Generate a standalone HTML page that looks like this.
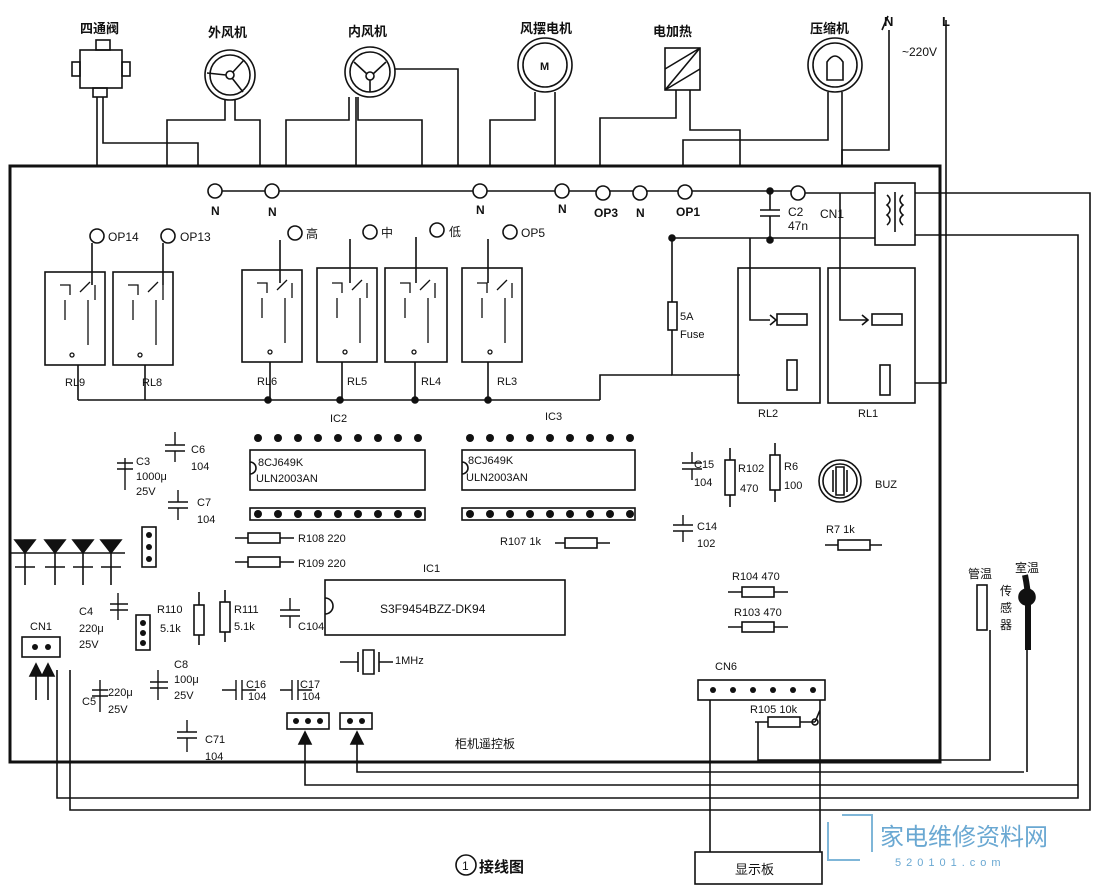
<!DOCTYPE html>
<html><head><meta charset="utf-8"><style>
html,body{margin:0;padding:0;background:#fff}
svg{display:block}
text{font-family:"Liberation Sans","Noto Sans CJK SC",sans-serif;fill:#111}
</style></head><body>
<svg width="1102" height="892" viewBox="0 0 1102 892" xmlns="http://www.w3.org/2000/svg" stroke="#111" fill="none" stroke-width="1.6">
<rect x="0" y="0" width="1102" height="892" fill="#fff" stroke="none"/>
<rect x="10" y="166" width="930" height="596" stroke-width="3"/>

<g stroke="none" font-size="13" font-weight="bold">
<text x="80" y="33">四通阀</text>
<text x="208" y="37">外风机</text>
<text x="348" y="36">内风机</text>
<text x="520" y="33">风摆电机</text>
<text x="653" y="36">电加热</text>
<text x="810" y="33">压缩机</text>
<text x="884" y="26">N</text>
<text x="942" y="26">L</text>
<text x="902" y="56" font-weight="normal" font-size="12">~220V</text>
</g>
<rect x="80" y="50" width="42" height="38"/><rect x="96" y="40" width="14" height="10"/>
<rect x="72" y="62" width="8" height="14"/><rect x="122" y="62" width="8" height="14"/>
<rect x="93" y="88" width="14" height="9"/>
<path d="M97 97V166M103 97V143H198V166"/>
<circle cx="230" cy="75" r="25"/><circle cx="230" cy="75" r="20"/><circle cx="230" cy="75" r="4"/>
<path d="M226 75L207 73M233 72L244 60M232 78L243 92"/>
<path d="M225 100V120H167V166M235 100V120H260V166"/>
<circle cx="370" cy="72" r="25"/><circle cx="370" cy="72" r="20"/><circle cx="370" cy="76" r="4"/>
<path d="M367 74L354 62M373 74L386 62M370 80V92"/>
<path d="M349 97V120H286V166M356 97V166M358 97V120H422V166M395 69H458V166"/>
<circle cx="545" cy="65" r="27"/><circle cx="545" cy="65" r="22"/>
<text x="540" y="70" font-size="11" stroke="none" font-weight="bold">M</text>
<path d="M535 92V120H490V166M555 92V166"/>
<rect x="665" y="48" width="35" height="42"/><path d="M665 90L700 48M665 69L700 48M665 90L700 69"/>
<path d="M676 90V118H600V166M690 90V130H740V166"/>
<circle cx="835" cy="65" r="27"/><circle cx="835" cy="65" r="22"/>
<path d="M827 80V62Q835 50 843 62V80Z"/>
<path d="M828 92V140H683V166M842 92V166"/>
<path d="M889 30V150H842V166M946 20V383H915M888 16L882 30"/>

<path d="M215 191H800"/>
<g fill="#fff">
<circle cx="215" cy="191" r="7"/><circle cx="272" cy="191" r="7"/><circle cx="480" cy="191" r="7"/><circle cx="562" cy="191" r="7"/><circle cx="603" cy="193" r="7"/><circle cx="640" cy="193" r="7"/><circle cx="685" cy="192" r="7"/><circle cx="798" cy="193" r="7"/>
</g>
<g stroke="none" font-size="12" font-weight="bold">
<text x="211" y="215">N</text><text x="268" y="216">N</text><text x="476" y="214">N</text><text x="558" y="213">N</text><text x="594" y="217">OP3</text><text x="636" y="217">N</text><text x="676" y="216">OP1</text>
<text x="788" y="216" font-weight="normal">C2</text><text x="788" y="230" font-weight="normal">47n</text><text x="820" y="218" font-weight="normal">CN1</text>
</g>
<circle cx="770" cy="191" r="3" fill="#111"/><circle cx="770" cy="240" r="3" fill="#111"/>
<path d="M770 191V210M760 210H780M760 216H780M770 216V240"/>
<rect x="875" y="183" width="40" height="62"/>
<path d="M887 195q6 5 0 10q6 5 0 10q6 5 0 10M903 195q-6 5 0 10q-6 5 0 10q-6 5 0 10M895 192V232"/>
<path d="M805 193H875M915 193H1090V810H70V670M915 235H1078V798H57V670"/>
<path d="M672 238H875"/><circle cx="672" cy="238" r="3" fill="#111"/>
<path d="M672 238V302M672 330V375H740"/><rect x="668" y="302" width="9" height="28"/>
<text x="680" y="320" font-size="11" stroke="none">5A</text><text x="680" y="338" font-size="11" stroke="none">Fuse</text>
<path d="M600 400V375H672"/>
<rect x="738" y="268" width="82" height="135"/><rect x="828" y="268" width="87" height="135"/>
<path d="M750 238V320H770M770 315L776 320L770 325M840 193V320H868M862 315L868 320L862 325"/>
<rect x="777" y="314" width="30" height="11"/><rect x="872" y="314" width="30" height="11"/>
<rect x="787" y="360" width="10" height="30"/><rect x="880" y="365" width="10" height="30"/>
<g stroke="none" font-size="11"><text x="758" y="417">RL2</text><text x="858" y="417">RL1</text></g>

<g fill="#fff">
<circle cx="97" cy="236" r="7"/><circle cx="168" cy="236" r="7"/><circle cx="295" cy="233" r="7"/><circle cx="370" cy="232" r="7"/><circle cx="437" cy="230" r="7"/><circle cx="510" cy="232" r="7"/>
</g>
<g stroke="none" font-size="12"><text x="108" y="241">OP14</text><text x="180" y="241">OP13</text><text x="306" y="238">高</text><text x="381" y="237">中</text><text x="449" y="236">低</text><text x="521" y="237">OP5</text></g>
<path d="M92 243V285M163 243V285M280 240V283M350 239V283M416 237V283M488 239V283"/>
<rect x="45" y="272" width="60" height="93"/><rect x="113" y="272" width="60" height="93"/>
<rect x="242" y="270" width="60" height="92"/><rect x="317" y="268" width="60" height="94"/>
<rect x="385" y="268" width="62" height="94"/><rect x="462" y="268" width="60" height="94"/>
<g stroke-width="1.3">
<path d="M60 285H70V295M80 292L90 282M95 285V300M65 300V320M88 300V345"/><circle cx="72" cy="355" r="2"/>
<path d="M128 285H138V295M148 292L158 282M163 285V300M133 300V320M156 300V345"/><circle cx="140" cy="355" r="2"/>
<path d="M257 283H267V293M277 290L287 280M292 283V298M262 298V318M285 298V343"/><circle cx="270" cy="352" r="2"/>
<path d="M332 283H342V293M352 290L362 280M367 283V298M337 298V318M360 298V343"/><circle cx="345" cy="352" r="2"/>
<path d="M400 283H410V293M420 290L430 280M435 283V298M405 298V318M428 298V343"/><circle cx="414" cy="352" r="2"/>
<path d="M477 283H487V293M497 290L507 280M512 283V298M482 298V318M505 298V343"/><circle cx="490" cy="352" r="2"/>
</g>
<g stroke="none" font-size="11"><text x="65" y="386">RL9</text><text x="142" y="386">RL8</text><text x="257" y="385">RL6</text><text x="347" y="385">RL5</text><text x="421" y="385">RL4</text><text x="497" y="385">RL3</text></g>
<path d="M78 400H600M78 365V400M145 365V400M270 362V400M342 362V400M415 362V400M488 362V400"/>
<g fill="#111"><circle cx="268" cy="400" r="3"/><circle cx="340" cy="400" r="3"/><circle cx="415" cy="400" r="3"/><circle cx="488" cy="400" r="3"/></g>

<g stroke="none" font-size="11"><text x="330" y="422">IC2</text><text x="545" y="420">IC3</text><text x="423" y="572">IC1</text></g>
<rect x="250" y="450" width="175" height="40"/><path d="M250 462a6 6 0 0 1 0 12"/>
<rect x="462" y="450" width="173" height="40"/><path d="M462 462a6 6 0 0 1 0 12"/>
<rect x="250" y="508" width="175" height="12"/><rect x="462" y="508" width="173" height="12"/>
<g fill="#111" stroke="none">
<circle cx="258" cy="438" r="4"/><circle cx="278" cy="438" r="4"/><circle cx="298" cy="438" r="4"/><circle cx="318" cy="438" r="4"/><circle cx="338" cy="438" r="4"/><circle cx="358" cy="438" r="4"/><circle cx="378" cy="438" r="4"/><circle cx="398" cy="438" r="4"/><circle cx="418" cy="438" r="4"/>
<circle cx="258" cy="514" r="4"/><circle cx="278" cy="514" r="4"/><circle cx="298" cy="514" r="4"/><circle cx="318" cy="514" r="4"/><circle cx="338" cy="514" r="4"/><circle cx="358" cy="514" r="4"/><circle cx="378" cy="514" r="4"/><circle cx="398" cy="514" r="4"/><circle cx="418" cy="514" r="4"/>
<circle cx="470" cy="438" r="4"/><circle cx="490" cy="438" r="4"/><circle cx="510" cy="438" r="4"/><circle cx="530" cy="438" r="4"/><circle cx="550" cy="438" r="4"/><circle cx="570" cy="438" r="4"/><circle cx="590" cy="438" r="4"/><circle cx="610" cy="438" r="4"/><circle cx="630" cy="438" r="4"/>
<circle cx="470" cy="514" r="4"/><circle cx="490" cy="514" r="4"/><circle cx="510" cy="514" r="4"/><circle cx="530" cy="514" r="4"/><circle cx="550" cy="514" r="4"/><circle cx="570" cy="514" r="4"/><circle cx="590" cy="514" r="4"/><circle cx="610" cy="514" r="4"/><circle cx="630" cy="514" r="4"/>
</g>
<g stroke="none" font-size="11"><text x="258" y="466">8CJ649K</text><text x="256" y="482">ULN2003AN</text><text x="468" y="464">8CJ649K</text><text x="466" y="481">ULN2003AN</text></g>
<rect x="325" y="580" width="240" height="55"/><path d="M325 598a8 8 0 0 1 0 16"/>
<text x="380" y="613" font-size="12" stroke="none">S3F9454BZZ-DK94</text>

<g stroke-width="1.4">
<path d="M175 432V445M165 445H185M165 451H185M175 451V462"/>
<path d="M125 458V490M117 463H133M117 469H133"/>
<path d="M178 490V502M168 502H188M168 508H188M178 508V520"/>
<path d="M118 593V620M110 604H128M110 610H128"/>
<path d="M100 680V712M92 690H108M92 696H108"/>
<path d="M158 670V700M150 682H168M150 688H168"/>
<path d="M222 690H236M236 680V700M242 680V700M242 690H256"/>
<path d="M280 690H292M292 680V700M298 680V700M298 690H312"/>
<path d="M187 720V732M177 732H197M177 738H197M187 738V752"/>
<path d="M290 598V610M280 610H300M280 616H300M290 616V628"/>
<path d="M692 452V463M682 463H702M682 469H702M692 469V480"/>
<path d="M683 515V525M673 525H693M673 531H693M683 531V542"/>
</g>
<g stroke="none" font-size="11">
<text x="191" y="453">C6</text><text x="191" y="470">104</text>
<text x="136" y="465">C3</text><text x="136" y="480">1000μ</text><text x="136" y="495">25V</text>
<text x="197" y="506">C7</text><text x="197" y="523">104</text>
<text x="79" y="615">C4</text><text x="79" y="632">220μ</text><text x="79" y="648">25V</text>
<text x="82" y="705">C5</text><text x="108" y="696">220μ</text><text x="108" y="713">25V</text>
<text x="174" y="668">C8</text><text x="174" y="683">100μ</text><text x="174" y="699">25V</text>
<text x="246" y="688">C16</text><text x="248" y="700">104</text>
<text x="300" y="688">C17</text><text x="302" y="700">104</text>
<text x="205" y="743">C71</text><text x="205" y="760">104</text>
<text x="298" y="630">C104</text>
<text x="694" y="468">C15</text><text x="694" y="486">104</text>
<text x="697" y="530">C14</text><text x="697" y="547">102</text>
</g>
<path d="M10 553H125"/>
<g fill="#111"><path d="M15 540L35 540L25 553Z"/><path d="M45 540L65 540L55 553Z"/><path d="M73 540L93 540L83 553Z"/><path d="M101 540L121 540L111 553Z"/></g>
<path d="M15 567H35M45 567H65M73 567H93M101 567H121M25 553V585M55 553V585M83 553V585M111 553V585"/>
<rect x="142" y="527" width="14" height="40"/>
<g fill="#111" stroke="none"><circle cx="149" cy="535" r="3"/><circle cx="149" cy="547" r="3"/><circle cx="149" cy="559" r="3"/>
<circle cx="143" cy="623" r="3"/><circle cx="143" cy="633" r="3"/><circle cx="143" cy="643" r="3"/></g>
<rect x="136" y="615" width="14" height="35"/>
<rect x="22" y="637" width="38" height="20"/>
<g fill="#111" stroke="none"><circle cx="35" cy="647" r="3"/><circle cx="48" cy="647" r="3"/></g>
<text x="30" y="630" font-size="11" stroke="none">CN1</text>
<path d="M36 668V700M48 668V700"/>
<path d="M30 676L36 664L42 676ZM42 676L48 664L54 676Z" fill="#111"/>
<rect x="248" y="533" width="32" height="10"/><path d="M235 538H248M280 538H294"/>
<rect x="248" y="557" width="32" height="10"/><path d="M235 562H248M280 562H294"/>
<rect x="194" y="605" width="10" height="30"/><path d="M199 592V605M199 635V645"/>
<rect x="220" y="602" width="10" height="30"/><path d="M225 590V602M225 632V642"/>
<rect x="565" y="538" width="32" height="10"/><path d="M555 543H565M597 543H610"/>
<rect x="725" y="460" width="10" height="35"/><path d="M730 448V460M730 495V507"/>
<rect x="770" y="455" width="10" height="35"/><path d="M775 443V455M775 490V502"/>
<rect x="838" y="540" width="32" height="10"/><path d="M825 545H838M870 545H882"/>
<rect x="742" y="587" width="32" height="10"/><path d="M728 592H742M774 592H788"/>
<rect x="742" y="622" width="32" height="10"/><path d="M728 627H742M774 627H788"/>
<rect x="768" y="717" width="32" height="10"/><path d="M755 722H768M800 722H815"/>
<g stroke="none" font-size="11">
<text x="298" y="542">R108 220</text><text x="298" y="567">R109 220</text>
<text x="157" y="613">R110</text><text x="160" y="632">5.1k</text>
<text x="234" y="613">R111</text><text x="234" y="630">5.1k</text>
<text x="500" y="545">R107 1k</text>
<text x="738" y="472">R102</text><text x="740" y="492">470</text>
<text x="784" y="470">R6</text><text x="784" y="489">100</text>
<text x="826" y="533">R7 1k</text>
<text x="732" y="580">R104 470</text><text x="734" y="616">R103 470</text>
<text x="750" y="713">R105 10k</text>
<text x="395" y="664">1MHz</text>
<text x="875" y="488">BUZ</text>
<text x="715" y="670">CN6</text>
<text x="455" y="748" font-size="12">柜机遥控板</text>
</g>
<path d="M340 662H358M358 652V672M363 650H374V674H363ZM379 652V672M379 662H393"/>
<circle cx="840" cy="481" r="21"/><circle cx="840" cy="481" r="17"/><path d="M833 470V492M847 470V492M836 467H844V495H836Z"/>
<rect x="287" y="713" width="42" height="16"/><rect x="340" y="713" width="32" height="16"/>
<g fill="#111" stroke="none"><circle cx="296" cy="721" r="3"/><circle cx="308" cy="721" r="3"/><circle cx="320" cy="721" r="3"/><circle cx="350" cy="721" r="3"/><circle cx="362" cy="721" r="3"/></g>
<path d="M305 732V785H1078M357 732V772H1024"/>
<path d="M299 744L305 732L311 744ZM351 744L357 732L363 744Z" fill="#111"/>
<rect x="698" y="680" width="127" height="20"/>
<g fill="#111" stroke="none"><circle cx="713" cy="690" r="3"/><circle cx="733" cy="690" r="3"/><circle cx="753" cy="690" r="3"/><circle cx="773" cy="690" r="3"/><circle cx="793" cy="690" r="3"/><circle cx="813" cy="690" r="3"/></g>
<path d="M710 700V852M820 700V852M815 722L820 710"/>
<circle cx="815" cy="722" r="3"/>
<path d="M758 722V760H990V630"/>
<rect x="695" y="852" width="127" height="32"/>
<text x="735" y="874" font-size="13" stroke="none">显示板</text>
<rect x="977" y="585" width="10" height="45"/>
<path d="M1025 575Q1028 590 1028 600V650" stroke-width="6"/><circle cx="1027" cy="597" r="8" fill="#111"/>
<g stroke="none" font-size="12"><text x="968" y="578">管温</text><text x="1015" y="572">室温</text><text x="1000" y="595">传</text><text x="1000" y="612">感</text><text x="1000" y="629">器</text></g>
<path d="M1027 650V772"/>
<circle cx="466" cy="865" r="10"/><text x="462" y="870" font-size="12" stroke="none">1</text>
<text x="479" y="872" font-size="15" stroke="none" font-weight="bold">接线图</text>
<g stroke="#7fb6d8" stroke-width="2"><path d="M828 822V860H860M842 815H872V852"/></g>
<text x="880" y="845" font-size="24" stroke="none" style="fill:#6aa8d2">家电维修资料网</text>
<text x="895" y="866" font-size="11" stroke="none" style="fill:#6aa8d2;letter-spacing:5px">520101.com</text>
</svg>
</body></html>
